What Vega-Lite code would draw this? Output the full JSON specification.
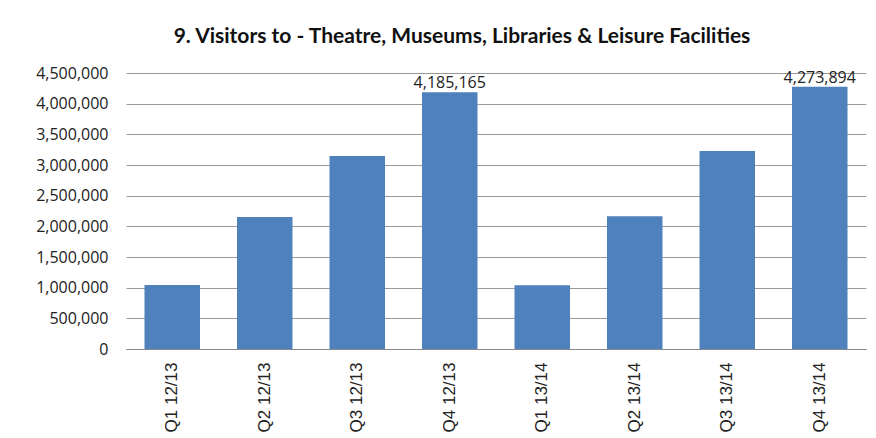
{
  "$schema": "https://vega.github.io/schema/vega-lite/v6.json",
  "width": 740,
  "height": 276,
  "autosize": {"type": "none"},
  "padding": {"left": 126, "top": 73, "right": 10, "bottom": 89},
  "background": "white",
  "title": {
    "text": "9. Visitors to - Theatre, Museums, Libraries & Leisure Facilities",
    "font": "Lato",
    "fontSize": 21,
    "fontWeight": "bold",
    "color": "#111111",
    "anchor": "middle",
    "frame": "group",
    "dx": -34,
    "offset": 18
  },
  "data": {
    "values": [
      {"quarter": "Q1 12/13", "visitors": 1043000},
      {"quarter": "Q2 12/13", "visitors": 2152000},
      {"quarter": "Q3 12/13", "visitors": 3147000},
      {"quarter": "Q4 12/13", "visitors": 4185165},
      {"quarter": "Q1 13/14", "visitors": 1040000},
      {"quarter": "Q2 13/14", "visitors": 2165000},
      {"quarter": "Q3 13/14", "visitors": 3228000},
      {"quarter": "Q4 13/14", "visitors": 4273894}
    ]
  },
  "encoding": {
    "x": {
      "field": "quarter",
      "type": "nominal",
      "sort": null,
      "scale": {"paddingInner": 0.4, "paddingOuter": 0.2},
      "axis": {
        "title": null,
        "labelAngle": -90,
        "labelFont": "Liberation Sans",
        "labelFontSize": 17,
        "labelColor": "#222222",
        "labelPadding": 13,
        "ticks": false,
        "domainColor": "#888888",
        "domainWidth": 1
      }
    },
    "y": {
      "field": "visitors",
      "type": "quantitative",
      "scale": {"domain": [0, 4500000], "nice": false},
      "axis": {
        "title": null,
        "values": [0, 500000, 1000000, 1500000, 2000000, 2500000, 3000000, 3500000, 4000000, 4500000],
        "format": ",d",
        "labelFont": "Open Sans",
        "labelFontSize": 16,
        "labelColor": "#222222",
        "labelPadding": 18,
        "ticks": false,
        "domain": false,
        "grid": true,
        "gridColor": "#999999",
        "gridWidth": 1
      }
    }
  },
  "layer": [
    {"mark": {"type": "bar", "color": "#4F81BD"}},
    {
      "transform": [{"filter": "indexof(datum.quarter, 'Q4') === 0"}],
      "mark": {"type": "text", "baseline": "alphabetic", "dy": -4, "font": "Open Sans", "fontSize": 16, "color": "#222222"},
      "encoding": {"text": {"field": "visitors", "type": "quantitative", "format": ",d"}}
    }
  ],
  "config": {"view": {"stroke": null}}
}
